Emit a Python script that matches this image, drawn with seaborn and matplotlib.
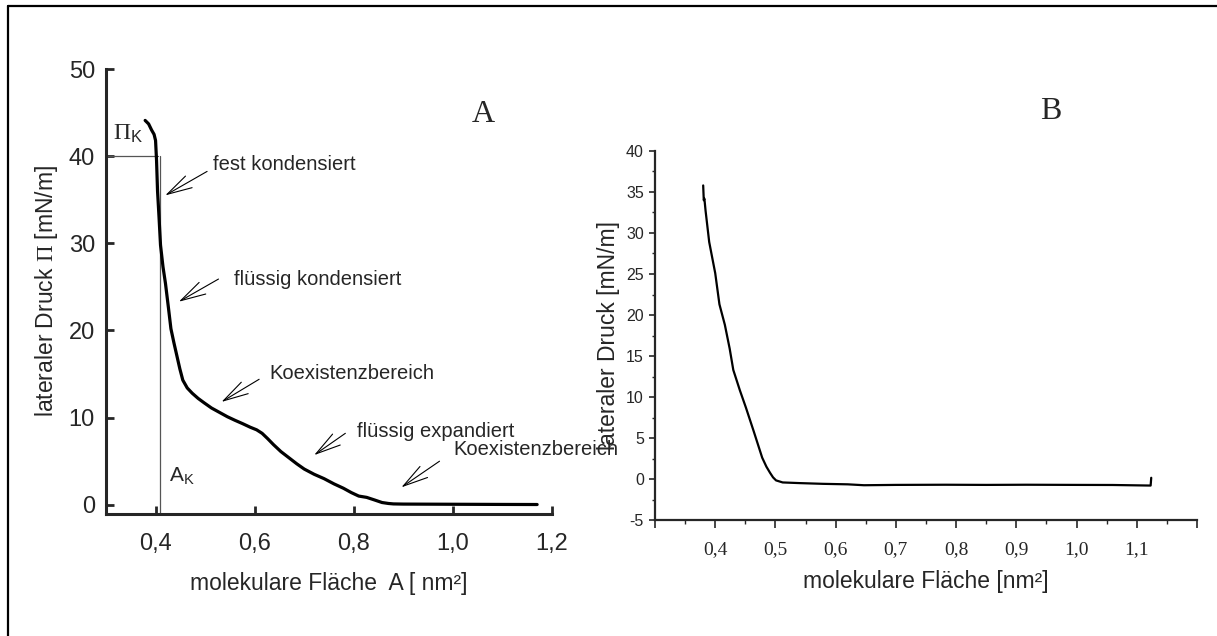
import numpy as np
import pandas as pd
import seaborn as sns
import matplotlib.pyplot as plt
from matplotlib.lines import Line2D
from matplotlib.ticker import MultipleLocator

# Isotherme A (Pi-A Kurve)
area_a = [0.379, 0.386, 0.392, 0.397, 0.400, 0.402, 0.404, 0.407, 0.410, 0.415,
          0.420, 0.426, 0.431, 0.437, 0.443, 0.449, 0.455, 0.464, 0.474, 0.486,
          0.498, 0.513, 0.529, 0.545, 0.560, 0.576, 0.591, 0.604, 0.615, 0.626,
          0.638, 0.653, 0.669, 0.685, 0.700, 0.720, 0.740, 0.760, 0.779, 0.795,
          0.810, 0.826, 0.842, 0.857, 0.870, 0.880, 0.900, 0.950, 1.000, 1.050,
          1.100, 1.170]
druck_a = [44.1, 43.7, 43.0, 42.5, 41.8, 39.5, 36.0, 33.0, 29.8, 27.3,
           25.4, 22.6, 20.2, 18.6, 17.1, 15.6, 14.3, 13.4, 12.8, 12.2,
           11.7, 11.1, 10.6, 10.1, 9.7, 9.3, 8.9, 8.6, 8.2, 7.6,
           6.9, 6.1, 5.4, 4.7, 4.1, 3.5, 3.0, 2.4, 1.9, 1.4,
           1.0, 0.85, 0.55, 0.26, 0.15, 0.10, 0.08, 0.07, 0.06, 0.05,
           0.04, 0.03]

# Isotherme B
area_b = [0.380, 0.381, 0.382, 0.384, 0.387, 0.390, 0.395, 0.400, 0.407, 0.416,
          0.424, 0.430, 0.441, 0.451, 0.464, 0.478, 0.485, 0.491, 0.496, 0.501,
          0.512, 0.540, 0.579, 0.620, 0.647, 0.700, 0.782, 0.850, 0.917, 1.000,
          1.060, 1.123, 1.124]
druck_b = [35.8, 34.0, 34.2, 32.7, 30.8, 28.9, 27.0, 25.1, 21.3, 18.8,
           15.9, 13.3, 10.8, 8.7, 5.8, 2.6, 1.5, 0.76, 0.2, -0.17,
           -0.42, -0.5, -0.59, -0.65, -0.76, -0.72, -0.70, -0.72, -0.70, -0.72,
           -0.73, -0.80, 0.15]

# Kollapspunkt
pi_k = 40
a_k = 0.408

# Phasen-Beschriftungen: Text, Textposition, Pfeilende, Pfeilspitze
phasen = ["fest kondensiert", "flüssig kondensiert", "Koexistenzbereich",
          "flüssig expandiert", "Koexistenzbereich"]
text_pos = [(0.515, 39.0), (0.559, 25.8), (0.630, 15.1), (0.806, 8.4), (1.000, 6.4)]
pfeil_von = [(0.504, 38.25), (0.527, 25.9), (0.609, 14.4), (0.783, 8.2), (0.973, 5.0)]
pfeil_zu = [(0.4195, 35.5), (0.447, 23.3), (0.533, 11.8), (0.720, 5.7), (0.896, 2.0)]

xticks_a = [0.4, 0.6, 0.8, 1.0, 1.2]
xlabels_a = ["0,4", "0,6", "0,8", "1,0", "1,2"]
yticks_a = [0, 10, 20, 30, 40, 50]

xticks_b = [0.3, 0.4, 0.5, 0.6, 0.7, 0.8, 0.9, 1.0, 1.1, 1.2]
xlabels_b = ["", "0,4", "0,5", "0,6", "0,7", "0,8", "0,9", "1,0", "1,1", ""]
yticks_b = [-5, 0, 5, 10, 15, 20, 25, 30, 35, 40]

sns.set_style("ticks")
plt.rcParams["font.family"] = ["Liberation Sans", "DejaVu Sans"]
plt.rcParams["axes.unicode_minus"] = False
plt.rcParams["mathtext.fontset"] = "custom"
plt.rcParams["mathtext.rm"] = "Liberation Serif"
plt.rcParams["mathtext.sf"] = "Liberation Sans"
plt.rcParams["mathtext.it"] = "Liberation Serif:italic"

W, H = 1217, 636
fig = plt.figure(figsize=(W / 100, H / 100), dpi=100)

# ---------- Panel A ----------
ax1 = fig.add_axes([106 / W, 1 - 513.5 / H, 446 / W, 444.5 / H])
df_a = pd.DataFrame({"A": area_a, "Pi": druck_a})
sns.lineplot(data=df_a, x="A", y="Pi", ax=ax1, color="black", lw=2.3,
             estimator=None, sort=False)
ax1.plot([0.3, 0.404], [pi_k, pi_k], color="#555555", lw=0.9, zorder=1)
ax1.plot([a_k, a_k], [-1, pi_k], color="#555555", lw=0.9, zorder=1)
ax1.set_xlim(0.3, 1.2)
ax1.set_ylim(-1, 50)
ax1.set_xticks(xticks_a)
ax1.set_xticklabels(xlabels_a)
ax1.set_yticks(yticks_a)
ax1.tick_params(direction="in", length=6, width=2, labelsize=17)
ax1.tick_params(axis="x", pad=14)
ax1.tick_params(axis="y", pad=8)
for s in ["top", "right"]:
    ax1.spines[s].set_visible(False)
for s in ["left", "bottom"]:
    ax1.spines[s].set_linewidth(2.2)
ax1.set_xlabel("molekulare Fläche  A [ nm²]", fontsize=16.5, labelpad=12)
ax1.set_ylabel(r"lateraler Druck $\mathrm{\Pi}$ [mN/m]", fontsize=16.5, labelpad=6)

ax1.text(0.314, 42.6, r"$\Pi_{\mathsf{K}}$", fontsize=17, ha="left", va="center")
ax1.text(0.427, 3.4, r"A$_{\mathsf{K}}$", fontsize=15, ha="left", va="center")
ax1.text(1.062, 44.8, "A", fontsize=23, family="Liberation Serif",
         ha="center", va="center")

for txt, tp, p0, p1 in zip(phasen, text_pos, pfeil_von, pfeil_zu):
    ax1.text(tp[0], tp[1], txt, fontsize=14.5, ha="left", va="center",
             clip_on=False, zorder=5)
    ax1.annotate("", xy=p1, xytext=p0,
                 arrowprops=dict(arrowstyle="->,head_length=0.9,head_width=0.24",
                                 lw=0.8, color="black", shrinkA=0, shrinkB=0,
                                 mutation_scale=20))

# ---------- Panel B ----------
ax2 = fig.add_axes([655 / W, 1 - 520 / H, 542 / W, 369 / H])
df_b = pd.DataFrame({"A": area_b, "Pi": druck_b})
sns.lineplot(data=df_b, x="A", y="Pi", ax=ax2, color="black", lw=1.6,
             estimator=None, sort=False)
ax2.set_xlim(0.3, 1.2)
ax2.set_ylim(-5, 40)
ax2.set_xticks(xticks_b)
ax2.set_xticklabels(xlabels_b, family="Liberation Serif")
ax2.set_yticks(yticks_b)
ax2.xaxis.set_minor_locator(MultipleLocator(0.05))
ax2.yaxis.set_minor_locator(MultipleLocator(2.5))
ax2.tick_params(axis="x", which="major", direction="out", length=5.5, width=1.2,
                labelsize=14, pad=10)
ax2.tick_params(axis="x", which="minor", direction="out", length=3, width=1.0)
ax2.tick_params(axis="y", which="major", direction="out", length=4, width=1.2,
                labelsize=11.5, pad=4)
ax2.tick_params(axis="y", which="minor", direction="out", length=2.4, width=1.0)
for s in ["top", "right"]:
    ax2.spines[s].set_visible(False)
for s in ["left", "bottom"]:
    ax2.spines[s].set_linewidth(1.6)
ax2.set_xlabel("molekulare Fläche [nm²]", fontsize=16.5, labelpad=8)
ax2.set_ylabel("lateraler Druck [mN/m]", fontsize=16.5, labelpad=4)
ax2.text(0.957, 44.8, "B", fontsize=23, family="Liberation Serif",
         ha="center", va="center", clip_on=False)

# Rahmen oben und links
fig.add_artist(Line2D([8 / W, 8 / W], [0, 1 - 6 / H], color="black", lw=1.6))
fig.add_artist(Line2D([8 / W, 1], [1 - 6 / H, 1 - 6 / H], color="black", lw=1.6))

fig.savefig("out.png", dpi=100, facecolor="white")
